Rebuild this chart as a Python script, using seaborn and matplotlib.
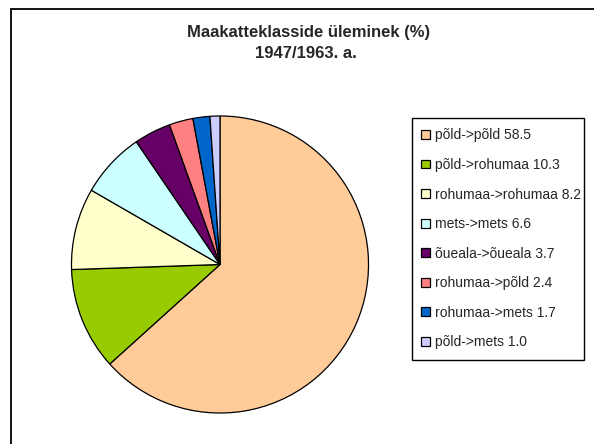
import matplotlib
matplotlib.use("Agg")
import matplotlib.pyplot as plt
import seaborn as sns
from matplotlib.patches import Rectangle

# andmed
klassid = ["põld->põld", "põld->rohumaa", "rohumaa->rohumaa", "mets->mets",
           "õueala->õueala", "rohumaa->põld", "rohumaa->mets", "põld->mets"]
osakaal = [58.5, 10.3, 8.2, 6.6, 3.7, 2.4, 1.7, 1.0]
varvid = ["#FFCC99", "#99CC00", "#FFFFCC", "#CCFFFF",
          "#660066", "#FF8080", "#0066CC", "#CCCCFF"]
pealkiri = ["Maakatteklasside üleminek (%)", "1947/1963. a."]

sns.set_theme(style="white")
plt.rcParams["font.family"] = ["Liberation Sans", "DejaVu Sans"]

fig = plt.figure(figsize=(5.94, 4.44), dpi=100)

# raam
fig.patches.append(Rectangle((10.5 / 594, -0.2), 1.2, 1.2 - 8.5 / 444,
                             transform=fig.transFigure, fill=False,
                             edgecolor="black", linewidth=1.3))

ax = fig.add_axes([70 / 594, 29 / 444, 300 / 594, 301 / 444])
palett = sns.color_palette(varvid)
wedges, _ = ax.pie(osakaal, colors=palett, startangle=90, counterclock=False,
                   radius=1.0, wedgeprops=dict(edgecolor="black", linewidth=0.9))
ax.set_xlim(-1.01, 1.01)
ax.set_ylim(-1.01, 1.01)
ax.set_aspect("equal")
ax.axis("off")

# pealkiri kahel real
fig.text(309 / 594, 1 - 33 / 444, pealkiri[0], ha="center", va="center",
         fontsize=12, fontweight="bold")
fig.text(306 / 594, 1 - 53 / 444, pealkiri[1], ha="center", va="center",
         fontsize=12, fontweight="bold")

# legend, raam eraldi
silt = [f"{k} {v:.1f}" for k, v in zip(klassid, osakaal)]
leg = fig.legend(wedges, silt, loc="upper left",
                 bbox_to_anchor=(411 / 594, 1 - 118 / 444),
                 frameon=False, fontsize=10, handlelength=0.6, handleheight=0.6,
                 handletextpad=0.4, labelspacing=1.12, borderpad=0.75,
                 borderaxespad=0)
fig.patches.append(Rectangle((411.5 / 594, 1 - 360 / 444), 172 / 594, 242 / 444,
                             transform=fig.transFigure, fill=False,
                             edgecolor="black", linewidth=1.0))

fig.savefig("out.png", dpi=100)
